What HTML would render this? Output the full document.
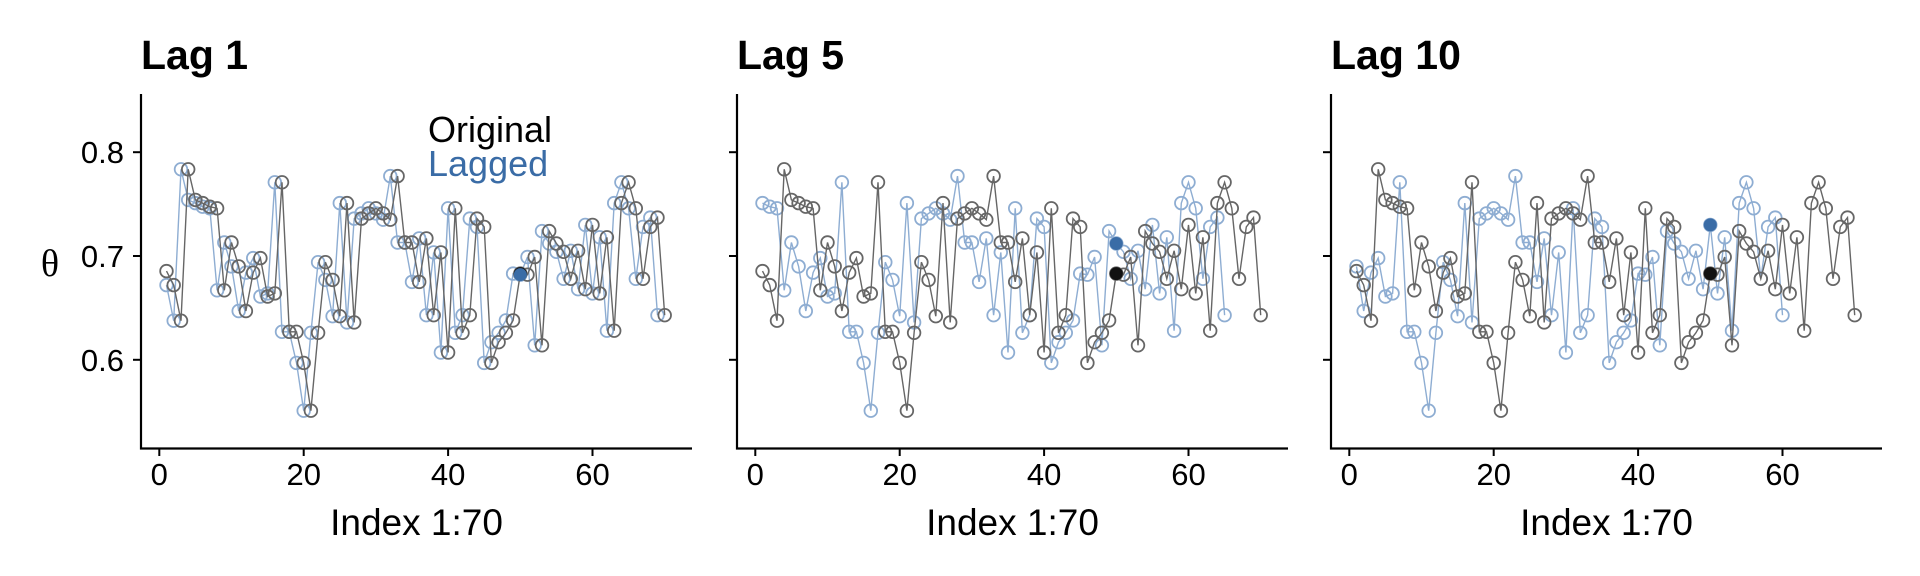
<!DOCTYPE html>
<html><head><meta charset="utf-8"><style>
html,body{margin:0;padding:0;background:#fff;}
svg{display:block;font-family:"Liberation Sans",Arial,sans-serif;}
</style></head><body>
<svg id="s" width="1920" height="576" viewBox="0 0 1920 576" xmlns="http://www.w3.org/2000/svg"></svg>
<script>
var d=[0.6855,0.672,0.6377,0.7835,0.754,0.751,0.7475,0.746,0.667,0.713,0.690,0.647,0.684,0.698,0.661,0.664,0.771,0.627,0.627,0.597,0.551,0.626,0.694,0.677,0.642,0.751,0.636,0.736,0.741,0.746,0.741,0.735,0.777,0.713,0.713,0.675,0.717,0.643,0.7035,0.607,0.746,0.626,0.643,0.736,0.728,0.597,0.617,0.626,0.638,0.683,0.682,0.699,0.614,0.724,0.712,0.704,0.678,0.705,0.668,0.730,0.664,0.718,0.628,0.751,0.771,0.746,0.678,0.728,0.737,0.643];
var s=document.getElementById('s'),h='';
function Y(v){return 256-(v-0.7)*1038;}
var offs=[0,596,1190],lags=[1,5,10];
for(var p=0;p<3;p++){
 var o=offs[p],L=lags[p];
 function X(i){return o+159.3+7.22*i;}
 h+='<text x="'+(o+141)+'" y="69" font-size="41" font-weight="bold">Lag '+L+'</text>';
 h+='<path d="M'+(o+141)+' 94V448.5H'+(o+692)+'" fill="none" stroke="#000" stroke-width="2.2"/>';
 [0.6,0.7,0.8].forEach(function(v){var y=Y(v);h+='<line x1="'+(o+133)+'" x2="'+(o+141)+'" y1="'+y+'" y2="'+y+'" stroke="#000" stroke-width="2"/>';
  if(p==0)h+='<text x="124" y="'+(y+11)+'" font-size="31" text-anchor="end">'+v.toFixed(1)+'</text>';});
 [0,20,40,60].forEach(function(t){var x=X(t);h+='<line x1="'+x+'" x2="'+x+'" y1="448" y2="456" stroke="#000" stroke-width="2"/><text x="'+x+'" y="485" font-size="31" text-anchor="middle">'+t+'</text>';});
 h+='<text x="'+(o+416.5)+'" y="535" font-size="37" text-anchor="middle">Index 1:70</text>';
 var pb='',cb='';
 for(var i=1;i<=70-L;i++){var x=X(i),y=Y(d[i-1+L]);pb+=(i==1?'M':'L')+x.toFixed(1)+' '+y.toFixed(1);cb+='<circle cx="'+x.toFixed(1)+'" cy="'+y.toFixed(1)+'" r="6.3"/>';}
 h+='<path d="'+pb+'" fill="none" stroke="#8eadd2" stroke-width="1.4"/><g fill="none" stroke="#8eadd2" stroke-width="1.8">'+cb+'</g>';
 var pk='',ck='';
 for(var i=1;i<=70;i++){var x=X(i),y=Y(d[i-1]);pk+=(i==1?'M':'L')+x.toFixed(1)+' '+y.toFixed(1);ck+='<circle cx="'+x.toFixed(1)+'" cy="'+y.toFixed(1)+'" r="6.3"/>';}
 h+='<path d="'+pk+'" fill="none" stroke="#666" stroke-width="1.4"/><g fill="none" stroke="#666" stroke-width="1.8">'+ck+'</g>';
 h+='<circle cx="'+X(50)+'" cy="'+Y(d[49])+'" r="6.5" fill="#111"/>';
 h+='<circle cx="'+X(50)+'" cy="'+Y(d[49+L])+'" r="6.5" fill="#3a6ca6"/>';
}
h+='<text x="428" y="142" font-size="36">Original</text><text x="428" y="176" font-size="36" fill="#3a6ca6">Lagged</text>';
h+='<text x="50" y="276" font-size="38" text-anchor="middle" font-family="Liberation Serif,serif">θ</text>';
s.innerHTML=h;
</script>
</body></html>
